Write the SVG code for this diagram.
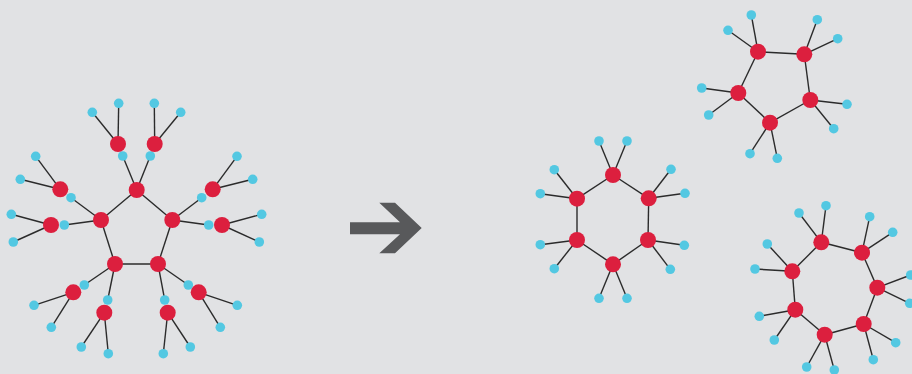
<svg xmlns="http://www.w3.org/2000/svg" width="912" height="374" viewBox="0 0 912 374">
<style>
.r{fill:#dc1f3e}
.b{fill:#53c8e2}
#edges line{stroke:#2b2b2b;stroke-width:1.4}
</style>
<rect width="912" height="374" fill="#e1e2e4"/>
<g id="edges">
<line x1="136.7" y1="190" x2="172.3" y2="220"/>
<line x1="172.3" y1="220" x2="158" y2="264"/>
<line x1="158" y1="264" x2="115" y2="264"/>
<line x1="115" y1="264" x2="101" y2="220"/>
<line x1="101" y1="220" x2="136.7" y2="190"/>
<line x1="136.7" y1="190" x2="122.7" y2="156"/>
<line x1="136.7" y1="190" x2="150.3" y2="156"/>
<line x1="118" y1="144" x2="92.3" y2="112.3"/>
<line x1="118" y1="144" x2="118.7" y2="103.3"/>
<line x1="154.7" y1="144" x2="154.3" y2="103.3"/>
<line x1="154.7" y1="144" x2="180.7" y2="112.3"/>
<line x1="101" y1="220" x2="71" y2="197.7"/>
<line x1="101" y1="220" x2="64.3" y2="225"/>
<line x1="60.3" y1="189.3" x2="35.7" y2="156.3"/>
<line x1="60.3" y1="189.3" x2="20.3" y2="179.3"/>
<line x1="51" y1="225" x2="11.3" y2="214.3"/>
<line x1="51" y1="225" x2="13.3" y2="242"/>
<line x1="172.3" y1="220" x2="201.7" y2="197.7"/>
<line x1="172.3" y1="220" x2="208.7" y2="225"/>
<line x1="212.7" y1="189.3" x2="237" y2="156.3"/>
<line x1="212.7" y1="189.3" x2="252.7" y2="179.3"/>
<line x1="222" y1="225" x2="261.7" y2="214.3"/>
<line x1="222" y1="225" x2="259.3" y2="242"/>
<line x1="115" y1="264" x2="84.3" y2="285"/>
<line x1="115" y1="264" x2="107.7" y2="300"/>
<line x1="73.3" y1="292.3" x2="34" y2="305.3"/>
<line x1="73.3" y1="292.3" x2="51.3" y2="327.3"/>
<line x1="104.3" y1="312.7" x2="81.3" y2="347"/>
<line x1="104.3" y1="312.7" x2="108.3" y2="353.7"/>
<line x1="158" y1="264" x2="188.3" y2="285"/>
<line x1="158" y1="264" x2="164.7" y2="300"/>
<line x1="198.7" y1="292.3" x2="237.3" y2="305.3"/>
<line x1="198.7" y1="292.3" x2="220.3" y2="327.3"/>
<line x1="167.7" y1="312.7" x2="190.3" y2="347"/>
<line x1="167.7" y1="312.7" x2="163.3" y2="353.7"/>
<line x1="613" y1="175" x2="648.7" y2="198.3"/>
<line x1="648.7" y1="198.3" x2="648" y2="240"/>
<line x1="648" y1="240" x2="613" y2="264.3"/>
<line x1="613" y1="264.3" x2="577" y2="240"/>
<line x1="577" y1="240" x2="577" y2="198.7"/>
<line x1="577" y1="198.7" x2="613" y2="175"/>
<line x1="613" y1="175" x2="599" y2="141"/>
<line x1="613" y1="175" x2="627" y2="141"/>
<line x1="648.7" y1="198.3" x2="671" y2="169.3"/>
<line x1="648.7" y1="198.3" x2="685" y2="193.3"/>
<line x1="648" y1="240" x2="684.3" y2="245.3"/>
<line x1="648" y1="240" x2="670.3" y2="269.3"/>
<line x1="613" y1="264.3" x2="599" y2="298.3"/>
<line x1="613" y1="264.3" x2="627" y2="298.3"/>
<line x1="577" y1="240" x2="540.3" y2="244.7"/>
<line x1="577" y1="240" x2="554.3" y2="268.7"/>
<line x1="577" y1="198.7" x2="554.3" y2="169.7"/>
<line x1="577" y1="198.7" x2="540.3" y2="193.7"/>
<line x1="758" y1="51.7" x2="804.3" y2="54.3"/>
<line x1="804.3" y1="54.3" x2="810.3" y2="100"/>
<line x1="810.3" y1="100" x2="770" y2="122.7"/>
<line x1="770" y1="122.7" x2="738.3" y2="93"/>
<line x1="738.3" y1="93" x2="758" y2="51.7"/>
<line x1="758" y1="51.7" x2="751.3" y2="15"/>
<line x1="758" y1="51.7" x2="728" y2="30.3"/>
<line x1="804.3" y1="54.3" x2="817.3" y2="19.7"/>
<line x1="804.3" y1="54.3" x2="837.7" y2="38.7"/>
<line x1="810.3" y1="100" x2="847" y2="104.3"/>
<line x1="810.3" y1="100" x2="833.7" y2="128.7"/>
<line x1="770" y1="122.7" x2="777.3" y2="158.3"/>
<line x1="770" y1="122.7" x2="750" y2="153.7"/>
<line x1="738.3" y1="93" x2="701.7" y2="88"/>
<line x1="738.3" y1="93" x2="708.7" y2="115"/>
<line x1="821.3" y1="242.3" x2="862" y2="252.7"/>
<line x1="862" y1="252.7" x2="877.3" y2="287.7"/>
<line x1="877.3" y1="287.7" x2="863.7" y2="324"/>
<line x1="863.7" y1="324" x2="824.7" y2="334.7"/>
<line x1="824.7" y1="334.7" x2="795.3" y2="309.7"/>
<line x1="795.3" y1="309.7" x2="792.3" y2="271.3"/>
<line x1="792.3" y1="271.3" x2="821.3" y2="242.3"/>
<line x1="821.3" y1="242.3" x2="799" y2="213"/>
<line x1="821.3" y1="242.3" x2="826" y2="205.7"/>
<line x1="862" y1="252.7" x2="869.7" y2="216.7"/>
<line x1="862" y1="252.7" x2="892.7" y2="232.3"/>
<line x1="877.3" y1="287.7" x2="910.7" y2="275"/>
<line x1="877.3" y1="287.7" x2="909.7" y2="303.3"/>
<line x1="863.7" y1="324" x2="895.7" y2="342.7"/>
<line x1="863.7" y1="324" x2="873.3" y2="359.7"/>
<line x1="824.7" y1="334.7" x2="834.3" y2="370"/>
<line x1="824.7" y1="334.7" x2="806.7" y2="367"/>
<line x1="795.3" y1="309.7" x2="759.3" y2="316.3"/>
<line x1="795.3" y1="309.7" x2="774.3" y2="340"/>
<line x1="792.3" y1="271.3" x2="755" y2="269"/>
<line x1="792.3" y1="271.3" x2="767.3" y2="244"/>
</g>
<g id="arrow"><polygon points="350,222.3 400,222.3 379.3,202.7 395,202.7 421.7,228 395,253.3 379.3,253.3 400,234.3 350,234.3" fill="#58595b"/></g>
<g id="lp1"><circle class="r" cx="136.7" cy="190" r="8"/></g>
<g id="lp2"><circle class="r" cx="172.3" cy="220" r="8"/></g>
<g id="lp3"><circle class="r" cx="158" cy="264" r="8"/></g>
<g id="lp4"><circle class="r" cx="115" cy="264" r="8"/></g>
<g id="lp5"><circle class="r" cx="101" cy="220" r="8"/></g>
<g id="lb1"><circle class="b" cx="122.7" cy="156" r="4.8"/></g>
<g id="lb2"><circle class="b" cx="150.3" cy="156" r="4.8"/></g>
<g id="lrA"><circle class="r" cx="118" cy="144" r="8"/></g>
<g id="lrB"><circle class="r" cx="154.7" cy="144" r="8"/></g>
<g id="lb3"><circle class="b" cx="92.3" cy="112.3" r="4.8"/></g>
<g id="lb4"><circle class="b" cx="118.7" cy="103.3" r="4.8"/></g>
<g id="lb5"><circle class="b" cx="154.3" cy="103.3" r="4.8"/></g>
<g id="lb6"><circle class="b" cx="180.7" cy="112.3" r="4.8"/></g>
<g id="lb7"><circle class="b" cx="71" cy="197.7" r="4.8"/></g>
<g id="lb8"><circle class="b" cx="64.3" cy="225" r="4.8"/></g>
<g id="lrC"><circle class="r" cx="60.3" cy="189.3" r="8"/></g>
<g id="lrD"><circle class="r" cx="51" cy="225" r="8"/></g>
<g id="lb9"><circle class="b" cx="35.7" cy="156.3" r="4.8"/></g>
<g id="lb10"><circle class="b" cx="20.3" cy="179.3" r="4.8"/></g>
<g id="lb11"><circle class="b" cx="11.3" cy="214.3" r="4.8"/></g>
<g id="lb12"><circle class="b" cx="13.3" cy="242" r="4.8"/></g>
<g id="lb13"><circle class="b" cx="201.7" cy="197.7" r="4.8"/></g>
<g id="lb14"><circle class="b" cx="208.7" cy="225" r="4.8"/></g>
<g id="lrE"><circle class="r" cx="212.7" cy="189.3" r="8"/></g>
<g id="lrF"><circle class="r" cx="222" cy="225" r="8"/></g>
<g id="lb15"><circle class="b" cx="237" cy="156.3" r="4.8"/></g>
<g id="lb16"><circle class="b" cx="252.7" cy="179.3" r="4.8"/></g>
<g id="lb17"><circle class="b" cx="261.7" cy="214.3" r="4.8"/></g>
<g id="lb18"><circle class="b" cx="259.3" cy="242" r="4.8"/></g>
<g id="lb19"><circle class="b" cx="84.3" cy="285" r="4.8"/></g>
<g id="lb20"><circle class="b" cx="107.7" cy="300" r="4.8"/></g>
<g id="lrG"><circle class="r" cx="73.3" cy="292.3" r="8"/></g>
<g id="lrH"><circle class="r" cx="104.3" cy="312.7" r="8"/></g>
<g id="lb21"><circle class="b" cx="34" cy="305.3" r="4.8"/></g>
<g id="lb22"><circle class="b" cx="51.3" cy="327.3" r="4.8"/></g>
<g id="lb23"><circle class="b" cx="81.3" cy="347" r="4.8"/></g>
<g id="lb24"><circle class="b" cx="108.3" cy="353.7" r="4.8"/></g>
<g id="lb25"><circle class="b" cx="188.3" cy="285" r="4.8"/></g>
<g id="lb26"><circle class="b" cx="164.7" cy="300" r="4.8"/></g>
<g id="lrI"><circle class="r" cx="198.7" cy="292.3" r="8"/></g>
<g id="lrJ"><circle class="r" cx="167.7" cy="312.7" r="8"/></g>
<g id="lb27"><circle class="b" cx="237.3" cy="305.3" r="4.8"/></g>
<g id="lb28"><circle class="b" cx="220.3" cy="327.3" r="4.8"/></g>
<g id="lb29"><circle class="b" cx="190.3" cy="347" r="4.8"/></g>
<g id="lb30"><circle class="b" cx="163.3" cy="353.7" r="4.8"/></g>
<g id="h1"><circle class="r" cx="613" cy="175" r="8"/></g>
<g id="h2"><circle class="r" cx="648.7" cy="198.3" r="8"/></g>
<g id="h3"><circle class="r" cx="648" cy="240" r="8"/></g>
<g id="h4"><circle class="r" cx="613" cy="264.3" r="8"/></g>
<g id="h5"><circle class="r" cx="577" cy="240" r="8"/></g>
<g id="h6"><circle class="r" cx="577" cy="198.7" r="8"/></g>
<g id="hb1"><circle class="b" cx="599" cy="141" r="4.8"/></g>
<g id="hb2"><circle class="b" cx="627" cy="141" r="4.8"/></g>
<g id="hb3"><circle class="b" cx="671" cy="169.3" r="4.8"/></g>
<g id="hb4"><circle class="b" cx="685" cy="193.3" r="4.8"/></g>
<g id="hb5"><circle class="b" cx="684.3" cy="245.3" r="4.8"/></g>
<g id="hb6"><circle class="b" cx="670.3" cy="269.3" r="4.8"/></g>
<g id="hb7"><circle class="b" cx="599" cy="298.3" r="4.8"/></g>
<g id="hb8"><circle class="b" cx="627" cy="298.3" r="4.8"/></g>
<g id="hb9"><circle class="b" cx="540.3" cy="244.7" r="4.8"/></g>
<g id="hb10"><circle class="b" cx="554.3" cy="268.7" r="4.8"/></g>
<g id="hb11"><circle class="b" cx="554.3" cy="169.7" r="4.8"/></g>
<g id="hb12"><circle class="b" cx="540.3" cy="193.7" r="4.8"/></g>
<g id="q1"><circle class="r" cx="758" cy="51.7" r="8"/></g>
<g id="q2"><circle class="r" cx="804.3" cy="54.3" r="8"/></g>
<g id="q3"><circle class="r" cx="810.3" cy="100" r="8"/></g>
<g id="q4"><circle class="r" cx="770" cy="122.7" r="8"/></g>
<g id="q5"><circle class="r" cx="738.3" cy="93" r="8"/></g>
<g id="qb1"><circle class="b" cx="751.3" cy="15" r="4.8"/></g>
<g id="qb2"><circle class="b" cx="728" cy="30.3" r="4.8"/></g>
<g id="qb3"><circle class="b" cx="817.3" cy="19.7" r="4.8"/></g>
<g id="qb4"><circle class="b" cx="837.7" cy="38.7" r="4.8"/></g>
<g id="qb5"><circle class="b" cx="847" cy="104.3" r="4.8"/></g>
<g id="qb6"><circle class="b" cx="833.7" cy="128.7" r="4.8"/></g>
<g id="qb7"><circle class="b" cx="777.3" cy="158.3" r="4.8"/></g>
<g id="qb8"><circle class="b" cx="750" cy="153.7" r="4.8"/></g>
<g id="qb9"><circle class="b" cx="701.7" cy="88" r="4.8"/></g>
<g id="qb10"><circle class="b" cx="708.7" cy="115" r="4.8"/></g>
<g id="s1"><circle class="r" cx="821.3" cy="242.3" r="8"/></g>
<g id="s2"><circle class="r" cx="862" cy="252.7" r="8"/></g>
<g id="s3"><circle class="r" cx="877.3" cy="287.7" r="8"/></g>
<g id="s4"><circle class="r" cx="863.7" cy="324" r="8"/></g>
<g id="s5"><circle class="r" cx="824.7" cy="334.7" r="8"/></g>
<g id="s6"><circle class="r" cx="795.3" cy="309.7" r="8"/></g>
<g id="s7"><circle class="r" cx="792.3" cy="271.3" r="8"/></g>
<g id="sb1"><circle class="b" cx="799" cy="213" r="4.8"/></g>
<g id="sb2"><circle class="b" cx="826" cy="205.7" r="4.8"/></g>
<g id="sb3"><circle class="b" cx="869.7" cy="216.7" r="4.8"/></g>
<g id="sb4"><circle class="b" cx="892.7" cy="232.3" r="4.8"/></g>
<g id="sb5"><circle class="b" cx="910.7" cy="275" r="4.8"/></g>
<g id="sb6"><circle class="b" cx="909.7" cy="303.3" r="4.8"/></g>
<g id="sb7"><circle class="b" cx="895.7" cy="342.7" r="4.8"/></g>
<g id="sb8"><circle class="b" cx="873.3" cy="359.7" r="4.8"/></g>
<g id="sb9"><circle class="b" cx="834.3" cy="370" r="4.8"/></g>
<g id="sb10"><circle class="b" cx="806.7" cy="367" r="4.8"/></g>
<g id="sb11"><circle class="b" cx="759.3" cy="316.3" r="4.8"/></g>
<g id="sb12"><circle class="b" cx="774.3" cy="340" r="4.8"/></g>
<g id="sb13"><circle class="b" cx="755" cy="269" r="4.8"/></g>
<g id="sb14"><circle class="b" cx="767.3" cy="244" r="4.8"/></g>
</svg>
